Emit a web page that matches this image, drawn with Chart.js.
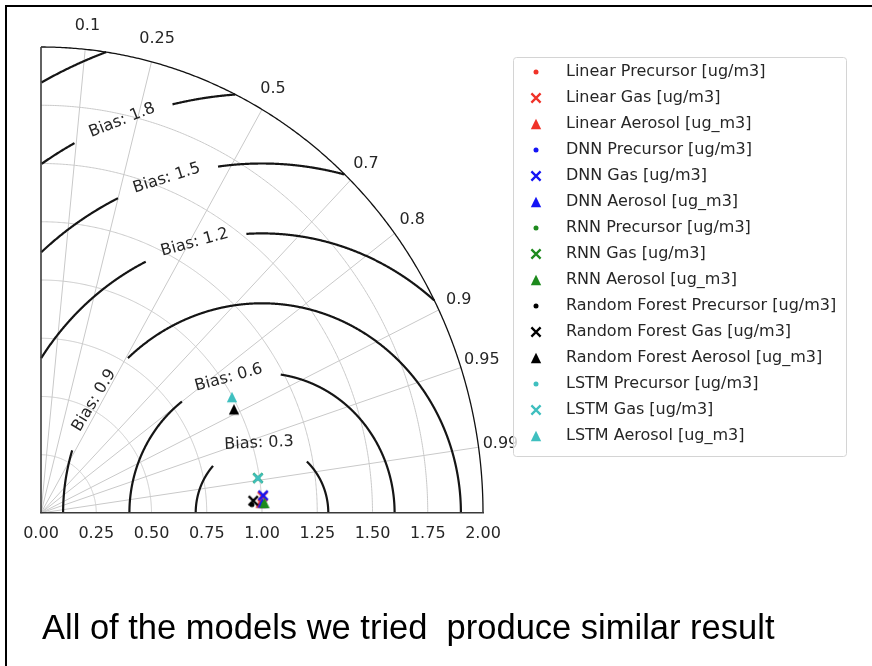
<!DOCTYPE html>
<html>
<head>
<meta charset="utf-8">
<script src="https://cdn.jsdelivr.net/npm/chart.js@4.4.1/dist/chart.umd.min.js"></script>
<style>
  html, body { margin: 0; padding: 0; background: #fff; }
  #slide { position: relative; width: 872px; height: 666px; overflow: hidden; }
  #chart { position: absolute; left: 0; top: 0; }
  #frame { position: absolute; left: 5px; top: 5px; width: 900px; height: 700px;
           border: 2px solid #000; box-sizing: border-box; }
  #note { position: absolute; left: 42px; top: 610px; margin: 0;
          font-family: 'Liberation Sans', Arial, sans-serif; font-size: 34.5px;
          line-height: 1; color: #000; white-space: pre; }
</style>
</head>
<body>
<div id="slide">
  <canvas id="chart" width="872" height="666"></canvas>
  <div id="frame"></div>
  <p id="note">All of the models we tried  produce similar result</p>
</div>
<script>
// Models and targets; one point per (model, target) pair
const models = ['Linear', 'DNN', 'RNN', 'Random Forest', 'LSTM'];
const targets = ['Precursor [ug/m3]', 'Gas [ug/m3]', 'Aerosol [ug_m3]'];

// Normalised standard deviation of each prediction, ordered model by model
const stdDev = [
  1.000, 1.005, 0.995,   // Linear
  1.005, 1.008, 1.003,   // DNN
  1.010, 0.993, 1.012,   // RNN
  0.955, 0.962, 0.980,   // Random Forest
  0.993, 0.993, 0.997    // LSTM
];
// Correlation with the observations, same order
const correlation = [
  0.9992, 0.9975, 0.9990,
  0.9993, 0.9972, 0.9990,
  0.9993, 0.9885, 0.9991,
  0.9993, 0.9985, 0.8910,
  0.9886, 0.9886, 0.8666
];

// Axis ticks
const stdTicks = [0, 0.25, 0.5, 0.75, 1.0, 1.25, 1.5, 1.75, 2.0];
const corrTicks = [0.1, 0.25, 0.5, 0.7, 0.8, 0.9, 0.95, 0.99];
// Centred RMS difference contours around the reference (std = 1)
const biasLevels = [0.3, 0.6, 0.9, 1.2, 1.5, 1.8, 2.1];
const biasLabels = ['Bias: 0.3', 'Bias: 0.6', 'Bias: 0.9', 'Bias: 1.2', 'Bias: 1.5', 'Bias: 1.8', ''];

// --- styling ---
const modelColors = ['#f03228', '#1414f5', '#1d8a1d', '#000000', '#3fbfbf'];
const targetShapes = ['dot', 'x', 'triangle'];
// where along each contour (angle around the reference point, degrees) the label sits
const biasLabelAngle = [92.5, 104.5, 147.5, 104.7, 106.7, 110.6, null];
const labelGapPx = 107;
const textColor = '#262626';

Chart.defaults.font.family = "'DejaVu Sans', sans-serif";

function markerCanvas(shape, color) {
  const c = document.createElement('canvas');
  c.width = 14; c.height = 14;
  const g = c.getContext('2d');
  const m = 7;
  g.fillStyle = color;
  g.strokeStyle = color;
  if (shape === 'dot') {
    g.beginPath(); g.arc(m, m, 2.5, 0, Math.PI * 2); g.fill();
  } else if (shape === 'x') {
    const d = 4.6;
    g.lineWidth = 2.3;
    g.beginPath();
    g.moveTo(m - d, m - d); g.lineTo(m + d, m + d);
    g.moveTo(m + d, m - d); g.lineTo(m - d, m + d);
    g.stroke();
  } else {
    const h = 5.2;
    g.beginPath();
    g.moveTo(m, m - h); g.lineTo(m + h, m + h); g.lineTo(m - h, m + h);
    g.closePath(); g.fill();
  }
  return c;
}

const datasets = [];
models.forEach((model, mi) => {
  targets.forEach((target, ti) => {
    const k = mi * targets.length + ti;
    const s = stdDev[k], r = correlation[k];
    datasets.push({
      label: model + ' ' + target,
      data: [{ x: s * r, y: s * Math.sqrt(1 - r * r) }],
      pointStyle: markerCanvas(targetShapes[ti], modelColors[mi]),
      backgroundColor: modelColors[mi],
      borderColor: modelColors[mi],
      pointRadius: 5,
      order: 100 - k,   // later series are drawn on top
      clip: false
    });
  });
});

// Polar frame, grid, contours and correlation labels of the Taylor diagram
const taylorFrame = {
  id: 'taylorFrame',
  afterLayout(chart) {
    const lg = chart.legend;
    lg.left = 504; lg.top = 54;
    lg.right = 866; lg.bottom = 476;
    lg.width = lg.right - lg.left; lg.height = lg.bottom - lg.top;
  },
  beforeDraw(chart) {
    const { ctx } = chart;
    const xs = chart.scales.x, ys = chart.scales.y;
    const P = (dx, dy) => [xs.getPixelForValue(dx), ys.getPixelForValue(dy)];
    const polar = (r, t) => P(r * Math.cos(t), r * Math.sin(t));
    const rMax = stdTicks[stdTicks.length - 1];
    const N = 1440;
    ctx.save();
    ctx.lineCap = 'butt';

    // standard deviation arcs
    ctx.strokeStyle = '#c9c9c9';
    ctx.lineWidth = 1;
    stdTicks.filter(s => s > 0 && s < rMax).forEach(s => {
      ctx.beginPath();
      for (let i = 0; i <= 360; i++) {
        const [px, py] = polar(s, (Math.PI / 2) * i / 360);
        i ? ctx.lineTo(px, py) : ctx.moveTo(px, py);
      }
      ctx.stroke();
    });
    // correlation rays
    corrTicks.forEach(c => {
      const t = Math.acos(c);
      const [x0, y0] = polar(0, t), [x1, y1] = polar(rMax, t);
      ctx.beginPath(); ctx.moveTo(x0, y0); ctx.lineTo(x1, y1); ctx.stroke();
    });

    // contours with inline labels
    const ppu = (Math.abs(xs.getPixelForValue(1) - xs.getPixelForValue(0)) +
                 Math.abs(ys.getPixelForValue(1) - ys.getPixelForValue(0))) / 2;
    ctx.font = "16px 'DejaVu Sans', sans-serif";
    biasLevels.forEach((lv, li) => {
      const at = biasLabelAngle[li];
      const atRad = at == null ? null : at * Math.PI / 180;
      const half = at == null ? 0 : (labelGapPx / 2) / (lv * ppu);
      ctx.strokeStyle = '#151515';
      ctx.lineWidth = 2.2;
      ctx.beginPath();
      let pen = false;
      for (let i = 0; i <= N; i++) {
        const phi = Math.PI * i / N;
        const dx = 1 + lv * Math.cos(phi), dy = lv * Math.sin(phi);
        const inside = dx >= 0 && dx * dx + dy * dy <= rMax * rMax &&
                       (atRad == null || Math.abs(phi - atRad) > half);
        if (inside) {
          const [px, py] = P(dx, dy);
          pen ? ctx.lineTo(px, py) : ctx.moveTo(px, py);
          pen = true;
        } else {
          pen = false;
        }
      }
      ctx.stroke();
      if (atRad != null && biasLabels[li]) {
        const [cx, cy] = P(1 + lv * Math.cos(atRad), lv * Math.sin(atRad));
        const [ax, ay] = P(1 + lv * Math.cos(atRad + 0.01), lv * Math.sin(atRad + 0.01));
        const [bx, by] = P(1 + lv * Math.cos(atRad - 0.01), lv * Math.sin(atRad - 0.01));
        ctx.save();
        ctx.translate(cx, cy);
        ctx.rotate(Math.atan2(by - ay, bx - ax));
        ctx.fillStyle = textColor;
        ctx.textAlign = 'center';
        ctx.textBaseline = 'middle';
        ctx.fillText(biasLabels[li], 0, 0);
        ctx.restore();
      }
    });

    // outer arc and left axis
    ctx.strokeStyle = '#111';
    ctx.lineWidth = 1.3;
    ctx.beginPath();
    for (let i = 0; i <= 360; i++) {
      const [px, py] = polar(rMax, (Math.PI / 2) * i / 360);
      i ? ctx.lineTo(px, py) : ctx.moveTo(px, py);
    }
    ctx.stroke();
    ctx.strokeStyle = '#3a3a3a';
    ctx.lineWidth = 1.6;
    const [lx0, ly0] = P(0, 0), [lx1, ly1] = P(0, rMax);
    ctx.beginPath(); ctx.moveTo(lx0, ly0); ctx.lineTo(lx1, ly1); ctx.stroke();

    // correlation tick labels
    ctx.fillStyle = textColor;
    ctx.textAlign = 'center';
    ctx.textBaseline = 'middle';
    corrTicks.forEach(c => {
      const [px, py] = polar(rMax * 1.05, Math.acos(c));
      ctx.fillText(String(c), px, py);
    });

    // legend frame
    const lg = chart.legend;
    const bx = lg.left + 9, by = lg.top + 3, bw = 333, bh = 399;
    ctx.beginPath();
    ctx.roundRect(bx + 0.5, by + 0.5, bw, bh, 3);
    ctx.fillStyle = 'rgba(255,255,255,0.8)';
    ctx.fill();
    ctx.strokeStyle = '#d4d4d4';
    ctx.lineWidth = 1;
    ctx.stroke();
    ctx.restore();
  }
};

new Chart(document.getElementById('chart'), {
  type: 'scatter',
  data: { datasets },
  options: {
    responsive: false,
    animation: false,
    events: [],
    layout: { padding: { left: 41, top: 47, right: 389, bottom: 113 } },
    scales: {
      x: {
        type: 'linear', min: 0, max: 2, position: 'bottom',
        afterBuildTicks: s => { s.ticks = stdTicks.map(v => ({ value: v })); },
        ticks: {
          callback: v => Number(v).toFixed(2),
          color: textColor, font: { size: 16 }, padding: 11,
          maxRotation: 0, autoSkip: false
        },
        grid: { display: false, drawTicks: false },
        border: { display: true, color: '#3a3a3a', width: 1.6 },
        afterFit: s => { s.height = 40; }
      },
      y: { type: 'linear', min: 0, max: 2, display: false }
    },
    plugins: {
      legend: {
        position: 'chartArea',
        align: 'start',
        labels: {
          usePointStyle: true,
          pointStyleWidth: 44,
          padding: 10,
          color: textColor,
          font: { size: 16 },
          sort: (a, b) => a.datasetIndex - b.datasetIndex
        }
      },
      tooltip: { enabled: false }
    }
  },
  plugins: [taylorFrame]
});
</script>
</body>
</html>
